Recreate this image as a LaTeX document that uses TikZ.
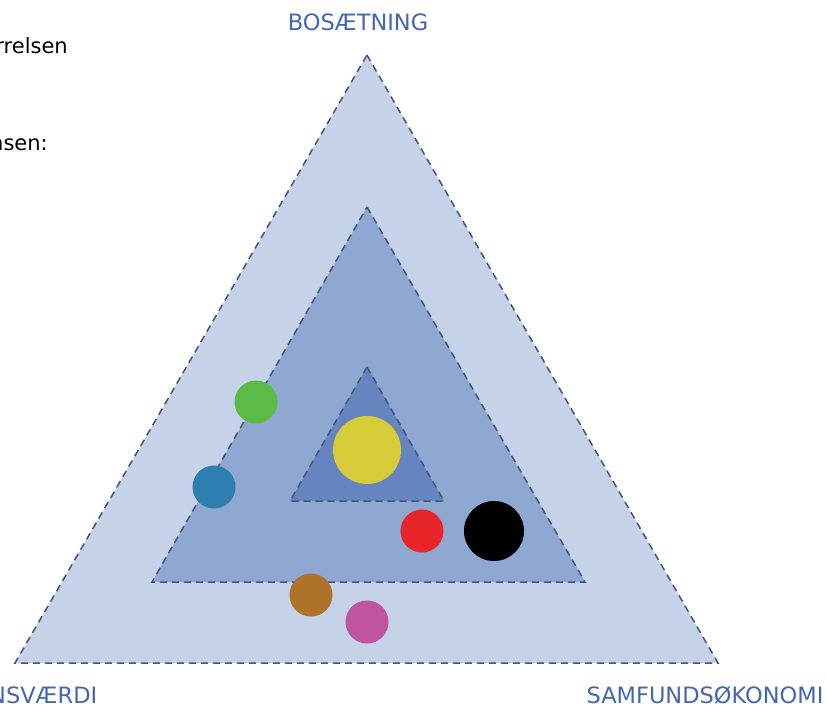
\documentclass[tikz,border=0pt]{standalone}
\usepackage{fontspec}
\setmainfont{DejaVu Sans}
\definecolor{outerfill}{HTML}{C5D2E7}
\definecolor{midfill}{HTML}{8FA8D2}
\definecolor{innerfill}{HTML}{6684BF}
\definecolor{dashcol}{HTML}{44557A}
\definecolor{labelblue}{HTML}{4466B0}
\definecolor{cgreen}{HTML}{5BBB47}
\definecolor{cblue}{HTML}{2E7FB0}
\definecolor{cyellow}{HTML}{D6CC3A}
\definecolor{cred}{HTML}{E8262A}
\definecolor{cbrown}{HTML}{AE7228}
\definecolor{cmag}{HTML}{BF55A0}
\begin{document}
\begin{tikzpicture}[x=1pt,y=-1pt,
  zone/.style={draw=dashcol,line width=1.5pt,dash pattern=on 7pt off 5pt},
  dot/.style={circle,inner sep=0pt,draw=none},
  corner/.style={font=\fontsize{22.5}{26}\selectfont,text=labelblue,inner sep=0pt},
  side/.style={font=\fontsize{21}{24}\selectfont,text=black,inner sep=0pt}]
\useasboundingbox (0,0) rectangle (827,709);
\clip (0,0) rectangle (827,709);
% triangles
\coordinate (oA) at (367,55);  \coordinate (oL) at (15,663);  \coordinate (oR) at (718,663);
\coordinate (mA) at (367,207); \coordinate (mL) at (152,582); \coordinate (mR) at (585,582);
\coordinate (iA) at (367,367); \coordinate (iL) at (290,501); \coordinate (iR) at (444,501);
\filldraw[zone,fill=outerfill] (oA) -- (oR) -- (oL) -- cycle;
\filldraw[zone,fill=midfill] (mA) -- (mR) -- (mL) -- cycle;
\filldraw[zone,fill=innerfill] (iA) -- (iR) -- (iL) -- cycle;
% circles
\node[dot,fill=cgreen,minimum size=43pt] (green) at (256,402) {};
\node[dot,fill=cblue,minimum size=43pt] (blue) at (214,487) {};
\node[dot,fill=cyellow,minimum size=68pt] (yellow) at (367,450) {};
\node[dot,fill=cred,minimum size=43pt] (red) at (422,531) {};
\node[dot,fill=black,minimum size=60pt] (black) at (494,531) {};
\node[dot,fill=cbrown,minimum size=43pt] (brown) at (311,595) {};
\node[dot,fill=cmag,minimum size=43pt] (magenta) at (367,622) {};
% labels
\node[corner] (top) at (358,22) {BOSÆTNING};
\node[corner,anchor=west] (left) at (-11,695) {NSVÆRDI};
\node[corner] (right) at (705,695) {SAMFUNDSØKONOMI};
\node[side,anchor=base east] (t1) at (68,54) {rrelsen};
\node[side,anchor=base east] (t2) at (48,150) {nsen:};
\end{tikzpicture}
\end{document}
